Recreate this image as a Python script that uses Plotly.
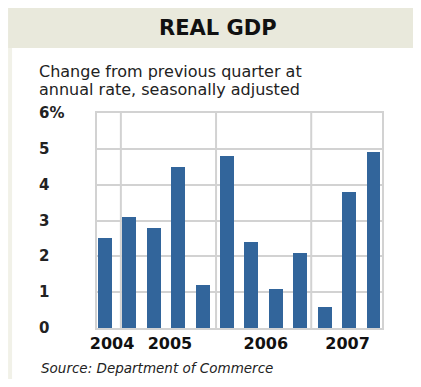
import plotly.graph_objects as go

quarters = ["2004 Q4", "2005 Q1", "2005 Q2", "2005 Q3", "2005 Q4",
            "2006 Q1", "2006 Q2", "2006 Q3", "2006 Q4",
            "2007 Q1", "2007 Q2", "2007 Q3"]
gdp_change = [2.5, 3.1, 2.8, 4.5, 1.2, 4.8, 2.4, 1.1, 2.1, 0.6, 3.8, 4.9]
year_labels = ["2004", "2005", "2006", "2007"]
year_label_pos = [0.29, 2.66, 6.59, 9.94]
year_breaks = [0.65, 4.55, 8.45]
y_ticks = [0, 1, 2, 3, 4, 5, 6]
y_tick_text = ["0", "1", "2", "3", "4", "5", "6%"]

GRID = "#d2d2d2"
BAR = "#32659b"
FONT = "DejaVu Sans"

x_idx = list(range(len(quarters)))

fig = go.Figure()
fig.add_trace(go.Bar(x=x_idx, y=gdp_change, width=0.57,
                     marker=dict(color=BAR, line=dict(width=0)),
                     hovertext=quarters, showlegend=False))

shapes = [
    dict(type="rect", xref="paper", yref="paper", x0=-0.312, x1=1.2,
         y0=1.302, y1=1.49, fillcolor="#e9e9dc", line=dict(width=0), layer="below"),
    dict(type="rect", xref="paper", yref="paper", x0=-0.312, x1=-0.298,
         y0=-0.265, y1=1.302, fillcolor="#f1f1e8", line=dict(width=0), layer="below"),
]
for b in year_breaks:
    shapes.append(dict(type="line", xref="x", yref="y", x0=b, x1=b, y0=0, y1=6,
                       line=dict(color=GRID, width=2), layer="below"))

annotations = [
    dict(text="<b>REAL GDP</b>", xref="paper", yref="paper", x=0.423, y=1.395,
         showarrow=False, font=dict(family=FONT, size=21, color="#111111"),
         xanchor="center", yanchor="middle"),
    dict(text="Change from previous quarter at", xref="paper", yref="paper",
         x=-0.2105, y=1.195, showarrow=False, xanchor="left", yanchor="middle",
         font=dict(family=FONT, size=16, color="#222222")),
    dict(text="annual rate, seasonally adjusted", xref="paper", yref="paper",
         x=-0.2105, y=1.107, showarrow=False, xanchor="left", yanchor="middle",
         font=dict(family=FONT, size=16, color="#222222")),
    dict(text="<i>Source: Department of Commerce</i>", xref="paper", yref="paper",
         x=-0.2035, y=-0.186, showarrow=False, xanchor="left", yanchor="middle",
         font=dict(family=FONT, size=13.5, color="#222222")),
]
for v, t in zip(y_ticks, y_tick_text):
    annotations.append(dict(text="<b>" + t + "</b>", xref="paper", yref="y",
                            x=-0.2105, y=v, showarrow=False, xanchor="left",
                            yanchor="middle",
                            font=dict(family=FONT, size=15, color="#222222")))

fig.update_layout(
    width=413, height=371,
    margin=dict(l=89, r=39, t=105, b=51),
    paper_bgcolor="white", plot_bgcolor="white",
    shapes=shapes, annotations=annotations,
    xaxis=dict(range=[-0.328, 11.35], tickmode="array", tickvals=year_label_pos,
               ticktext=["<b>" + y + "</b>" for y in year_labels],
               tickfont=dict(family=FONT, size=16, color="#111111"),
               showgrid=False, zeroline=False, showline=True, mirror=True,
               linecolor=GRID, linewidth=2, ticks=""),
    yaxis=dict(range=[0, 6], tickvals=y_ticks, showticklabels=False,
               showgrid=True, gridcolor=GRID, gridwidth=2, zeroline=False,
               showline=True, mirror=True, linecolor=GRID, linewidth=2, ticks=""),
    bargap=0,
)

fig.write_html("out.html")
